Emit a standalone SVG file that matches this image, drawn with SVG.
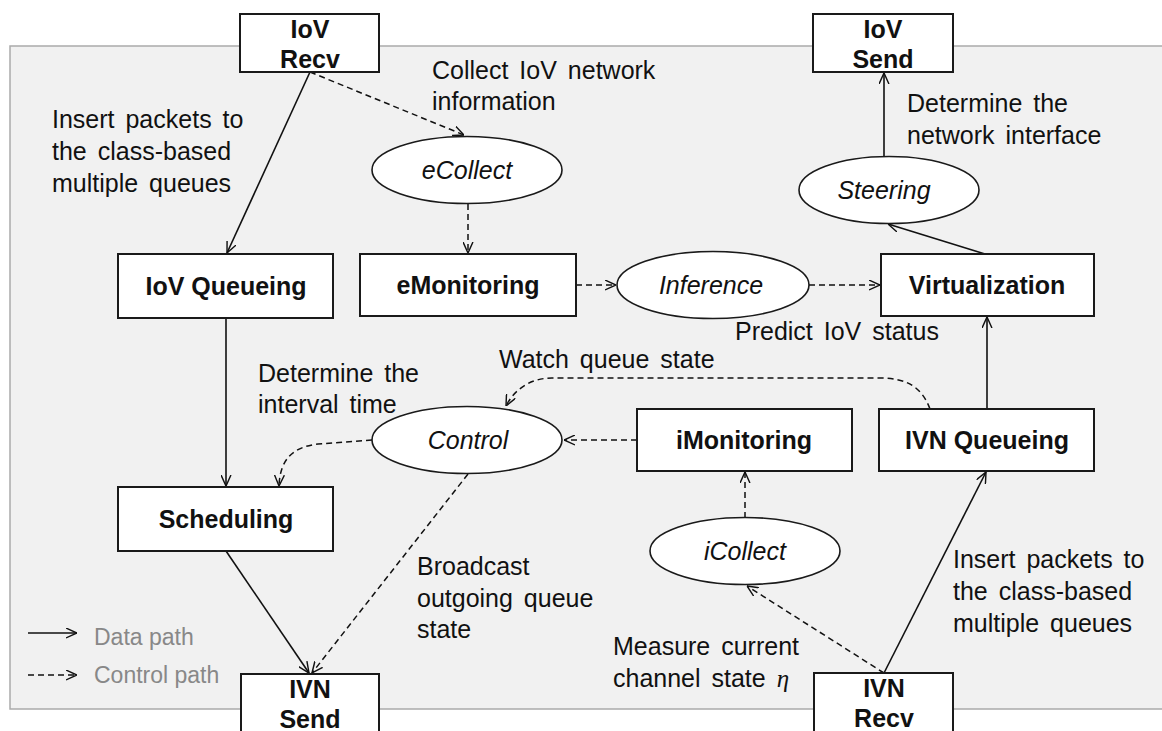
<svg xmlns="http://www.w3.org/2000/svg" width="1162" height="731" viewBox="0 0 1162 731">
  <defs>
    <marker id="arrow" viewBox="0 0 10 10" refX="10" refY="5" markerWidth="11" markerHeight="11" markerUnits="userSpaceOnUse" orient="auto">
      <path d="M0,0.5 L10,5 L0,9.5" fill="none" stroke="#111" stroke-width="1.3"/>
    </marker>
    <style>
      .panel { fill: #f1f1f1; stroke: #aaaaaa; stroke-width: 1.5; }
      .box { fill: #ffffff; stroke: #1a1a1a; stroke-width: 2; }
      .oval { fill: #ffffff; stroke: #1a1a1a; stroke-width: 1.6; }
      .node { font-family: "Liberation Sans", Arial, sans-serif; font-size: 25px; font-weight: bold; fill: #111; text-anchor: middle; }
      .proc { font-family: "Liberation Sans", Arial, sans-serif; font-size: 25px; font-style: italic; fill: #111; text-anchor: middle; }
      .note { font-family: "Liberation Sans", Arial, sans-serif; font-size: 25px; fill: #111; word-spacing: 4px; }
      .legend { font-family: "Liberation Sans", Arial, sans-serif; font-size: 23px; fill: #888888; }
      .data { fill: none; stroke: #111; stroke-width: 1.6; marker-end: url(#arrow); }
      .ctrl { fill: none; stroke: #111; stroke-width: 1.5; stroke-dasharray: 6 4; marker-end: url(#arrow); }
    </style>
  </defs>

  <!-- host boundary -->
  <rect class="panel" x="10" y="46" width="1160" height="663"/>

  <!-- connectors -->
  <g id="connectors">
    <line class="data" x1="310" y1="72" x2="227" y2="253"/>
    <path class="ctrl" d="M310 72 L464 135"/>
    <line class="ctrl" x1="468" y1="204" x2="468" y2="253"/>
    <line class="ctrl" x1="576" y1="285" x2="616" y2="285"/>
    <line class="ctrl" x1="809" y1="285" x2="880" y2="285"/>
    <line class="data" x1="985" y1="254" x2="888" y2="224"/>
    <line class="data" x1="884" y1="157" x2="884" y2="73"/>
    <line class="data" x1="987" y1="409" x2="987" y2="317"/>
    <line class="data" x1="884" y1="673" x2="986" y2="472"/>
    <line class="ctrl" x1="884" y1="673" x2="747" y2="586"/>
    <line class="ctrl" x1="745" y1="518" x2="745" y2="472"/>
    <line class="ctrl" x1="637" y1="440" x2="564" y2="440"/>
    <path class="ctrl" d="M930 409 C922 388 908 378 880 378 L552 378 C530 378 514 390 506 406"/>
    <path class="ctrl" d="M372 440 L318 444 C292 447 280 460 279 486"/>
    <line class="data" x1="226" y1="318" x2="226" y2="486"/>
    <line class="data" x1="226" y1="551" x2="309" y2="673"/>
    <line class="ctrl" x1="468" y1="474" x2="312" y2="673"/>
  </g>

  <!-- endpoints -->
  <g id="iov-recv">
    <rect class="box" x="240" y="14" width="139" height="58"/>
    <text class="node" x="310" y="38">IoV</text>
    <text class="node" x="310" y="68">Recv</text>
  </g>
  <g id="iov-send">
    <rect class="box" x="813" y="14" width="140" height="58"/>
    <text class="node" x="883" y="38">IoV</text>
    <text class="node" x="883" y="68">Send</text>
  </g>
  <g id="ivn-send">
    <rect class="box" x="241" y="674" width="138" height="70"/>
    <text class="node" x="310" y="698">IVN</text>
    <text class="node" x="310" y="728">Send</text>
  </g>
  <g id="ivn-recv">
    <rect class="box" x="814" y="673" width="139" height="70"/>
    <text class="node" x="884" y="697">IVN</text>
    <text class="node" x="884" y="727">Recv</text>
  </g>

  <!-- modules -->
  <g id="iov-queueing">
    <rect class="box" x="118" y="254" width="215" height="64"/>
    <text class="node" x="226" y="295">IoV Queueing</text>
  </g>
  <g id="emonitoring">
    <rect class="box" x="360" y="254" width="216" height="62"/>
    <text class="node" x="468" y="294">eMonitoring</text>
  </g>
  <g id="virtualization">
    <rect class="box" x="881" y="254" width="213" height="62"/>
    <text class="node" x="987" y="294">Virtualization</text>
  </g>
  <g id="scheduling">
    <rect class="box" x="118" y="487" width="215" height="64"/>
    <text class="node" x="226" y="528">Scheduling</text>
  </g>
  <g id="imonitoring">
    <rect class="box" x="637" y="409" width="215" height="62"/>
    <text class="node" x="744" y="449">iMonitoring</text>
  </g>
  <g id="ivn-queueing">
    <rect class="box" x="879" y="409" width="215" height="62"/>
    <text class="node" x="987" y="449">IVN Queueing</text>
  </g>

  <!-- functions -->
  <g id="ecollect">
    <ellipse class="oval" cx="467" cy="170" rx="95" ry="33.5"/>
    <text class="proc" x="467" y="179">eCollect</text>
  </g>
  <g id="steering">
    <ellipse class="oval" cx="889" cy="190" rx="90" ry="33.5"/>
    <text class="proc" x="884" y="199">Steering</text>
  </g>
  <g id="inference">
    <ellipse class="oval" cx="713" cy="285" rx="96" ry="33.5"/>
    <text class="proc" x="711" y="294">Inference</text>
  </g>
  <g id="control">
    <ellipse class="oval" cx="467" cy="440" rx="95" ry="33.5"/>
    <text class="proc" x="468" y="449">Control</text>
  </g>
  <g id="icollect">
    <ellipse class="oval" cx="745" cy="551" rx="95" ry="33.5"/>
    <text class="proc" x="745" y="560">iCollect</text>
  </g>

  <!-- annotations -->
  <g id="labels">
    <text class="note" x="52" y="128">Insert packets to</text>
    <text class="note" x="52" y="160">the class-based</text>
    <text class="note" x="52" y="192">multiple queues</text>
    <text class="note" x="432" y="79">Collect IoV network</text>
    <text class="note" x="432" y="110">information</text>
    <text class="note" x="907" y="112">Determine the</text>
    <text class="note" x="907" y="144">network interface</text>
    <text class="note" x="735" y="340">Predict IoV status</text>
    <text class="note" x="499" y="368">Watch queue state</text>
    <text class="note" x="258" y="382">Determine the</text>
    <text class="note" x="258" y="413">interval time</text>
    <text class="note" x="417" y="575">Broadcast</text>
    <text class="note" x="417" y="607">outgoing queue</text>
    <text class="note" x="417" y="638">state</text>
    <text class="note" x="953" y="568">Insert packets to</text>
    <text class="note" x="953" y="600">the class-based</text>
    <text class="note" x="953" y="632">multiple queues</text>
    <text class="note" x="613" y="655">Measure current</text>
    <text class="note" x="613" y="687">channel state <tspan font-family="'Liberation Serif', 'Times New Roman', serif" font-style="italic">η</tspan></text>
  </g>

  <!-- legend -->
  <g id="legend">
    <line class="data" x1="28" y1="633" x2="77" y2="633"/>
    <text class="legend" x="94" y="645">Data path</text>
    <line class="ctrl" x1="28" y1="675" x2="77" y2="675"/>
    <text class="legend" x="94" y="683">Control path</text>
  </g>
</svg>
